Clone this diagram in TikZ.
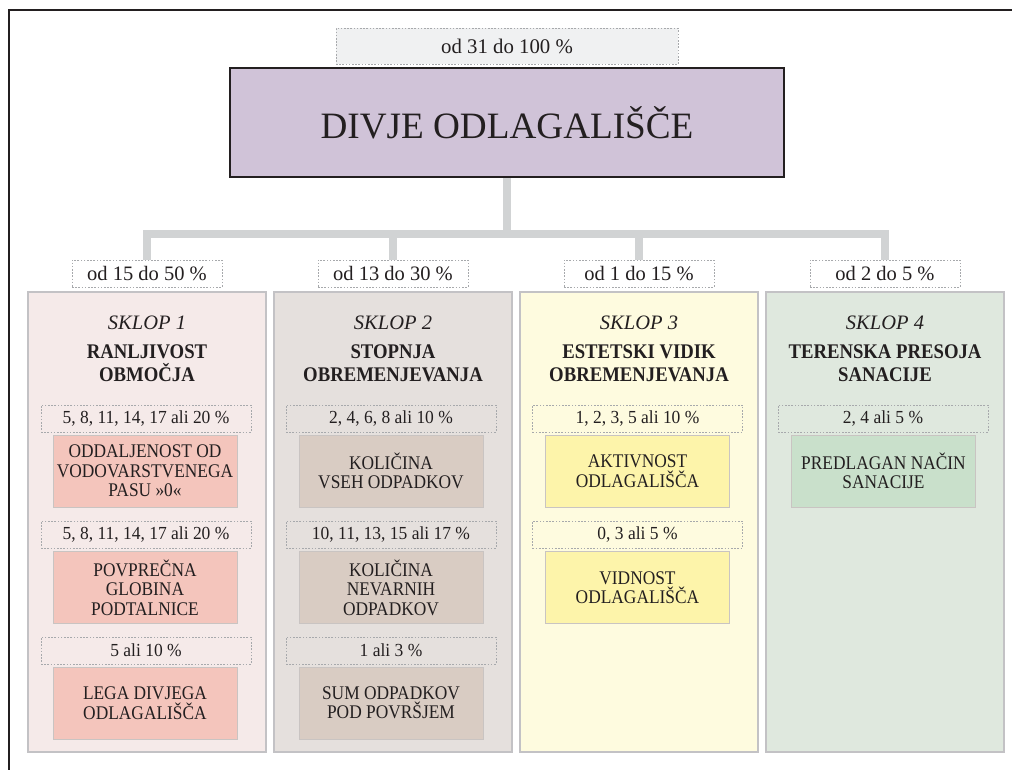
\documentclass[tikz,border=0pt]{standalone}
\usepackage{fontspec}
\setmainfont{Liberation Serif}
\newfontfamily\condfont[FakeStretch=0.9]{Liberation Serif}
\newfontfamily\semifont[FakeStretch=0.95]{Liberation Serif}
\definecolor{ink}{HTML}{231F20}
\definecolor{conncol}{HTML}{D1D3D4}
\definecolor{dashcol}{HTML}{A7A9AC}
\definecolor{panelline}{HTML}{C3C2C5}
\definecolor{subline}{HTML}{C9C4C2}
\definecolor{topfill}{HTML}{F0F1F2}
\definecolor{mainfill}{HTML}{D0C3D8}
\definecolor{pA}{HTML}{F5EAE9}
\definecolor{pB}{HTML}{E5E0DD}
\definecolor{pC}{HTML}{FEFBDF}
\definecolor{pD}{HTML}{DFE8DE}
\definecolor{sA}{HTML}{F4C5BC}
\definecolor{sB}{HTML}{D9CCC3}
\definecolor{sC}{HTML}{FDF4AA}
\definecolor{sD}{HTML}{C9E0CB}
\begin{document}
\begin{tikzpicture}[x=1pt,y=-1pt,
  every node/.style={text=ink, inner sep=0pt},
  dlab/.style={draw=dashcol, line width=0.8pt, dash pattern=on 1.6pt off 1.6pt,
    minimum width=210pt, minimum height=27pt, font=\semifont\fontsize{18.4}{19}\selectfont},
  clab/.style={dlab, fill=white, minimum width=150pt, font=\fontsize{20.5}{22}\selectfont},
  panel/.style={draw=panelline, line width=2.6pt, minimum width=238pt, minimum height=460pt},
  subbox/.style={draw=subline, line width=1pt, minimum width=184pt, minimum height=72pt,
    align=center, font=\condfont\fontsize{19.3}{19.5}\selectfont},
  sklop/.style={anchor=base, font=\fontsize{20.5}{23}\itshape},
  ttl/.style={anchor=south, align=center, text depth=0pt, font=\condfont\fontsize{20.8}{23}\selectfont\bfseries},
  conn/.style={draw=conncol, line width=8.5pt}
]
\useasboundingbox (0,0) rectangle (1012,770);
% outer frame
\coordinate (fa) at (9,770);
\coordinate (fb) at (9,10);
\coordinate (fc) at (1012,10);
\draw[ink, line width=2.5pt] (fa) -- (fb) -- (fc);

% top
\node[draw=dashcol, line width=0.8pt, dash pattern=on 1.6pt off 1.6pt, fill=topfill,
  minimum width=342pt, minimum height=36pt, font=\fontsize{20.8}{22}\selectfont]
  (toplab) at (507,46.5) {od 31 do 100 \%};
\node[draw=ink, line width=2pt, fill=mainfill, minimum width=554pt, minimum height=109pt,
  font=\fontsize{37.2}{40}\selectfont] (main) at (507,122.5) {DIVJE ODLAGALIŠČE};

% column labels
\node[clab] (l1) at (147,273.5) {od 15 do 50 \%};
\node[clab] (l2) at (393,273.5) {od 13 do 30 \%};
\node[clab] (l3) at (639,273.5) {od 1 do 15 \%};
\node[clab] (l4) at (885,273.5) {od 2 do 5 \%};

% connectors
\coordinate (j) at (507,234);
\draw[conn] (main.south) -- (j);
\draw[conn] (l1.north) |- (j) -| (l4.north);
\draw[conn] (l2.north) -- (l2.north |- j);
\draw[conn] (l3.north) -- (l3.north |- j);

% panels
\node[panel, fill=pA] (p1) at (147,522) {};
\node[panel, fill=pB] (p2) at (393,522) {};
\node[panel, fill=pC] (p3) at (639,522) {};
\node[panel, fill=pD] (p4) at (885,522) {};

\node[sklop] (k1) at (147,329) {SKLOP 1};
\node[sklop] (k2) at (393,329) {SKLOP 2};
\node[sklop] (k3) at (639,329) {SKLOP 3};
\node[sklop] (k4) at (885,329) {SKLOP 4};

\node[ttl] (t1) at (147,382) {RANLJIVOST\\OBMOČJA};
\node[ttl] (t2) at (393,382) {STOPNJA\\OBREMENJEVANJA};
\node[ttl] (t3) at (639,382) {ESTETSKI VIDIK\\OBREMENJEVANJA};
\node[ttl] (t4) at (885,382) {TERENSKA PRESOJA\\SANACIJE};

% column 1
\node[dlab] (a1) at (146,418.5) {5, 8, 11, 14, 17 ali 20 \%};
\node[subbox, fill=sA] (b1) at (145,471) {ODDALJENOST OD\\VODOVARSTVENEGA\\PASU »0«};
\node[dlab] (a2) at (146,534.5) {5, 8, 11, 14, 17 ali 20 \%};
\node[subbox, fill=sA] (b2) at (145,587.5) {POVPREČNA\\GLOBINA\\PODTALNICE};
\node[dlab] (a3) at (146,650.5) {5 ali 10 \%};
\node[subbox, fill=sA] (b3) at (145,703) {LEGA DIVJEGA\\ODLAGALIŠČA};

% column 2
\node[dlab] (c1) at (391,418.5) {2, 4, 6, 8 ali 10 \%};
\node[subbox, fill=sB] (d1) at (391,471) {KOLIČINA\\VSEH ODPADKOV};
\node[dlab] (c2) at (391,534.5) {10, 11, 13, 15 ali 17 \%};
\node[subbox, fill=sB] (d2) at (391,587.5) {KOLIČINA\\NEVARNIH\\ODPADKOV};
\node[dlab] (c3) at (391,650.5) {1 ali 3 \%};
\node[subbox, fill=sB] (d3) at (391,703) {SUM ODPADKOV\\POD POVRŠJEM};

% column 3
\node[dlab] (e1) at (637.5,418.5) {1, 2, 3, 5 ali 10 \%};
\node[subbox, fill=sC] (f1) at (637.5,471) {AKTIVNOST\\ODLAGALIŠČA};
\node[dlab] (e2) at (637.5,534.5) {0, 3 ali 5 \%};
\node[subbox, fill=sC] (f2) at (637.5,587.5) {VIDNOST\\ODLAGALIŠČA};

% column 4
\node[dlab] (g1) at (883,418.5) {2, 4 ali 5 \%};
\node[subbox, fill=sD] (h1) at (883.5,471) {PREDLAGAN NAČIN\\SANACIJE};
\end{tikzpicture}
\end{document}
